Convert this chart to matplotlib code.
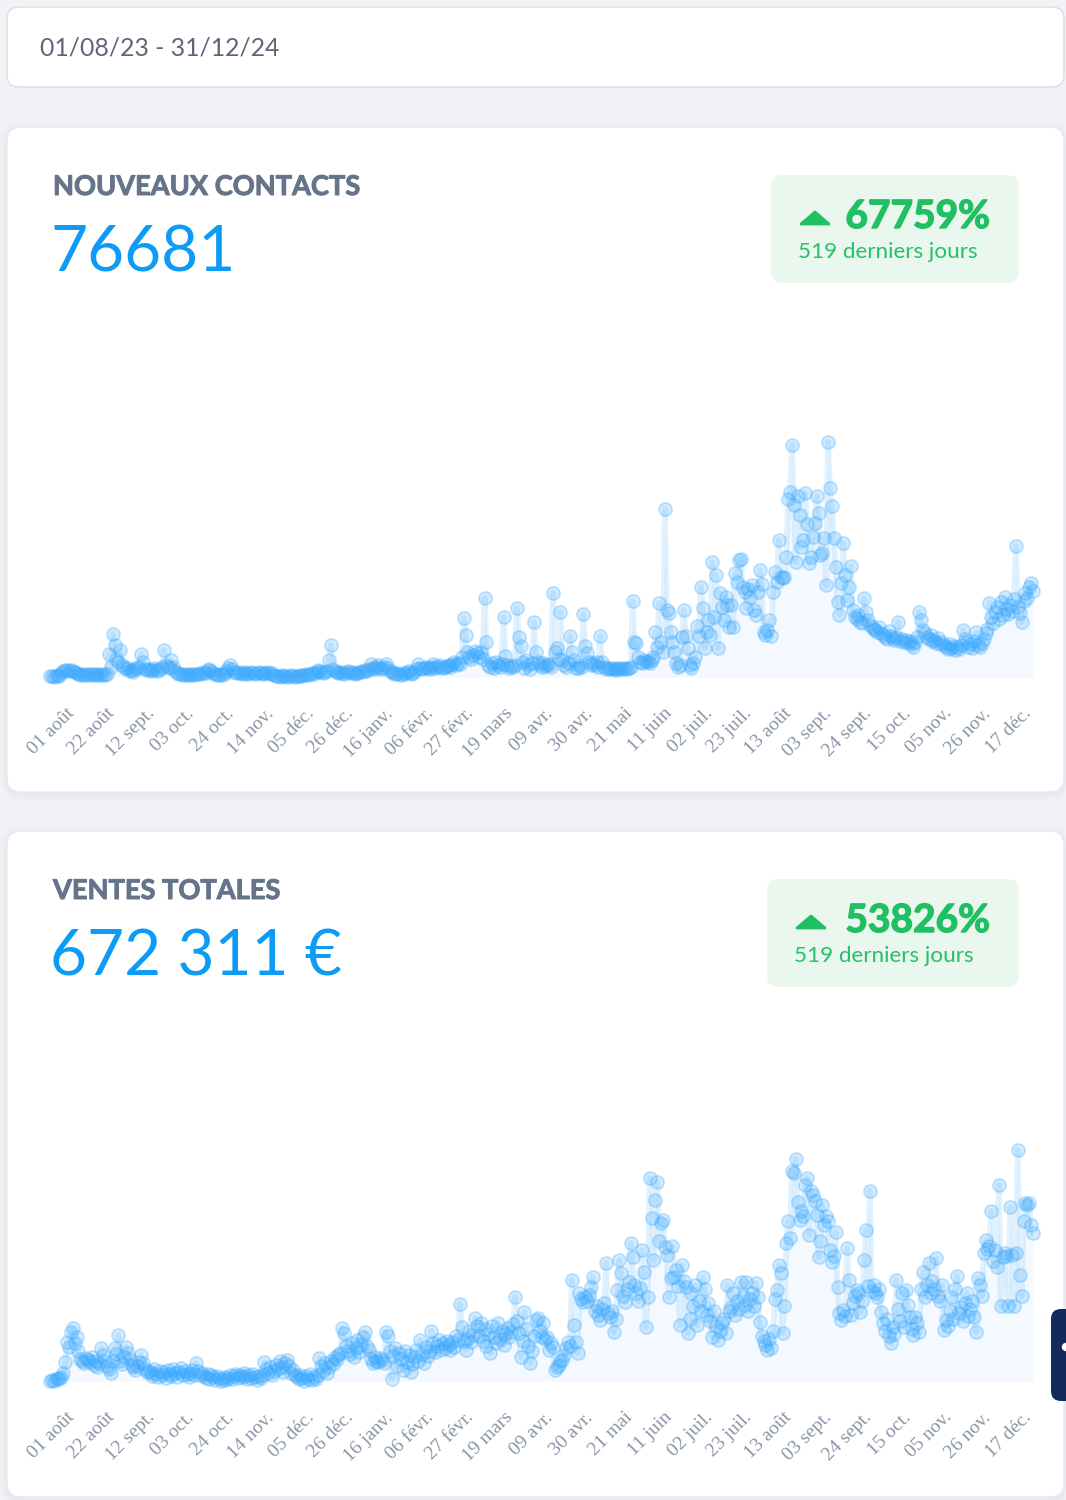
import numpy as np
import matplotlib.pyplot as plt
import matplotlib.patheffects as pe
from matplotlib import font_manager as fm
from matplotlib.patches import FancyBboxPatch, Polygon
from matplotlib.transforms import blended_transform_factory, ScaledTranslation

date_range = '01/08/23 - 31/12/24'
titles = ['NOUVEAUX CONTACTS', 'VENTES TOTALES']
totals = ['76681', '672 311 €']
growth = ['67759%', '53826%']
period = '519 derniers jours'

# one label every 21 days, starting 01/08/2023
tick_step = 21
tick_labels = ['01 août', '22 août', '12 sept.', '03 oct.', '24 oct.', '14 nov.',
               '05 déc.', '26 déc.', '16 janv.', '06 févr.', '27 févr.', '19 mars',
               '09 avr.', '30 avr.', '21 mai', '11 juin', '02 juil.', '23 juil.',
               '13 août', '03 sept.', '24 sept.', '15 oct.', '05 nov.', '26 nov.',
               '17 déc.']

# daily values (arbitrary units)
contacts = [
    1, 1, 0, 1, 2, 1,
    4, 6, 7, 7, 6, 7, 6, 5, 4,
    3, 2, 3, 2, 3, 2, 3, 3, 2, 3, 2, 3, 2, 3, 2, 3,
    23, 10, 43, 32, 18, 15, 27, 12, 10, 8, 9, 6, 7, 5, 8,
    10, 9, 23, 15, 8, 7, 8, 6, 7, 9, 7, 6, 8,
    10, 27, 12, 10, 9, 17, 10, 6,
    4, 3, 3, 2, 3, 2, 2, 3, 3, 2, 3, 3, 4, 3, 5, 4, 7,
    8, 6, 4, 3, 2, 2, 3, 2, 4, 6, 9, 12, 8, 5, 4, 5,
    4, 3, 5, 4, 3, 4, 5, 4, 3, 4, 5, 4, 3, 4, 4, 5, 3, 4,
    2, 1, 1, 0, 2, 1, 1, 0, 1, 2, 1, 0, 1, 1, 2, 1, 2, 3, 2,
    3, 4, 3, 5, 7, 6, 5, 4, 5, 6, 17, 32,
    8, 6, 5, 4, 5, 4, 3, 5, 6, 4, 5, 4, 3, 4, 5, 6, 5, 7, 6, 8, 13,
    9, 8, 10, 12, 9, 8, 10, 13, 9, 6, 5, 4,
    3, 4, 3, 2, 4, 3, 5, 6, 4, 3, 5, 8, 13,
    9, 8, 9, 10, 9, 8, 10, 13, 9, 10, 12, 10, 9, 10, 11, 12, 10, 13, 15, 12, 14, 13, 20,
    59, 42, 25, 20, 18, 22, 26, 24, 20, 25, 18,
    79, 35, 12, 10, 14, 9, 15, 12, 10, 13,
    60, 21, 12, 9, 11, 10, 12,
    69, 40, 31, 15, 9, 17, 12, 8, 14,
    55, 25, 15, 12, 10, 14, 11, 13, 12, 10,
    84, 25, 29, 18, 65, 17, 12, 10, 14,
    41, 25, 17, 9, 9, 12, 10,
    63, 31, 24, 15, 12, 14, 12, 15, 10,
    41, 15, 10, 8, 9, 8, 9, 8, 7, 9, 8, 9, 8, 9, 8, 9, 10,
    76, 35, 34, 20, 15, 14, 17, 15, 16, 14, 17, 20,
    45, 30, 74, 35, 25,
    168, 67, 64, 45, 35, 25, 14, 10, 12,
    40, 67, 41, 29, 12, 9, 14, 20, 51, 41,
    90, 69, 29, 45, 57, 42, 115, 60, 102, 29,
    84, 70, 57, 80, 72, 50,
    72, 50, 104, 95, 117, 118, 90, 85,
    69, 88, 80, 92, 67, 62, 85, 107, 93, 45, 42, 47, 57, 41,
    85, 105, 95, 137, 100, 99, 100, 120, 178, 185,
    232, 172, 115, 181, 162, 130, 137, 184, 153, 114,
    120, 140, 154, 181, 164, 122, 124, 139, 92, 235,
    189, 171, 139, 110, 75, 62, 94, 134, 102, 77,
    90, 111, 67, 60, 58, 62, 55, 54, 79, 65, 57, 52, 50, 48, 47,
    45, 50, 44, 42, 40, 38, 46, 41, 39, 37, 40, 55, 36, 38, 35, 37, 34, 36, 33, 30,
    35, 40, 65, 57, 47, 44, 40, 38, 42, 36, 37, 34, 39, 33, 35,
    32, 30, 28, 33, 29, 31, 27, 30, 28, 32,
    47, 38, 35, 30, 33, 29, 36, 45, 32, 30, 34, 38, 44, 48,
    74, 60, 54, 65, 70, 58, 75, 62, 80, 68, 63, 72, 66, 78,
    131,
    70, 64, 55, 76, 84, 79, 90, 94, 86,
]

ventes = [
    0, 1, 0, 2, 3, 2, 4, 8,
    19, 39, 34, 49, 53, 38, 44, 30,
    22, 20, 18, 23, 21, 19, 24, 16, 20, 14, 18,
    33, 26, 20, 15, 12, 8,
    20, 33, 27, 46, 20, 17, 24, 34, 28, 22, 16, 14, 11,
    15, 19, 26, 18, 12, 9, 10,
    8, 5, 12, 7, 4, 10, 6, 9, 3, 11, 7, 5, 12, 8, 4, 9, 13, 6, 10, 7, 4, 8, 11, 6,
    18, 10, 6, 8,
    5, 3, 7, 2, 6, 4, 1, 5, 3, 0, 2, 4, 1, 3, 6, 2, 5, 7, 3, 6, 4, 8, 5, 2, 6, 3, 7, 4, 1, 5, 3, 6,
    19, 12, 8, 14, 6, 10,
    16, 12, 20, 14, 9, 18, 21, 15, 8, 11, 6,
    4, 2, 6, 3, 0, 5, 2, 7, 1, 4, 2, 6,
    23, 15, 10, 18, 8, 14, 20, 17, 24, 22, 26,
    28, 53, 48, 35, 30,
    27, 38, 24, 33, 41, 29, 36, 44, 49, 35, 31,
    22, 18, 24, 20, 19, 23, 21, 18,
    49, 45, 30,
    2, 25, 33, 15, 28, 22, 11, 30, 19, 26, 9, 17, 24, 31, 20, 41, 27, 18, 34, 25, 30, 50, 38, 29,
    35, 41, 31, 38, 33, 40, 36, 31, 39, 34, 45, 41,
    77, 54, 40, 31, 42, 50, 39, 46, 63, 55, 45,
    58, 40, 52, 35, 47, 28, 55, 44, 38, 58, 42, 50, 36, 47, 53, 44, 49, 57,
    84, 60, 48, 24, 40, 69, 52, 35,
    18, 30, 45, 61, 63, 50, 44, 58, 42,
    44, 31, 38, 34, 11, 14, 16, 20, 21, 26, 33, 39, 35,
    101, 56, 39, 28, 88, 82, 79, 84, 80, 86, 94,
    104, 70, 75, 66, 61, 72, 78, 118, 68, 64, 70, 49, 62,
    91, 121, 108, 85, 79, 92, 99,
    138, 124, 96, 88, 80, 93, 131, 109, 54, 84,
    203, 163, 121, 181, 199, 140,
    158, 161, 134, 126, 84, 103, 135,
    104, 111, 95, 56, 116, 100, 94, 48,
    62, 88, 75, 96, 56, 80, 70, 104, 92, 66, 78,
    60, 44, 70, 55, 41, 50, 58, 62, 48, 96, 70,
    74, 88, 66, 80, 72, 99, 85, 76, 99, 70, 82, 88, 75, 98, 84,
    59, 45, 40, 36, 31, 42, 33, 50,
    82, 91, 116, 108, 48, 75,
    138, 160, 143, 210, 208, 222,
    179, 161, 170, 165,
    196, 203, 146, 190, 186, 180,
    166, 124, 140, 176, 156, 165, 160,
    131, 119, 125, 149,
    94, 68, 61, 71, 65, 133, 101, 66,
    78, 85, 91, 88, 69, 80,
    121, 151, 95, 190, 90,
    96, 88, 84, 92, 69, 58,
    50, 62, 45, 38, 54, 47,
    101, 72, 60, 88, 54, 91, 76, 64,
    52, 46, 64, 58, 49,
    92, 109, 84, 96, 118, 88, 100, 92, 123, 85, 80, 96,
    51, 61, 55,
    70, 84, 62, 92, 105, 68, 74, 60, 78, 88, 65, 72, 80, 64,
    49, 103, 96, 85,
    128, 141, 132, 135, 170, 120, 131, 114,
    196, 75, 124, 128, 125, 75, 174, 126, 75, 128,
    231, 106, 85, 160, 178, 176, 178, 156, 148,
]

assert len(contacts) == 519, 'contacts: %d' % len(contacts)
assert len(ventes) == 519, 'ventes: %d' % len(ventes)


def weight_of(f):
    w = f.weight
    return fm.weight_dict.get(w, 400) if isinstance(w, str) else int(w)


def lato_bold_file():
    for f in fm.fontManager.ttflist:
        if f.name == 'Lato' and f.style == 'normal' and 650 <= weight_of(f) <= 800:
            return f.fname
    return None


W, H = 1066, 1500
BG = '#f1f2f6'
BLUE = '#0d9cf5'
GREEN = '#1fbf62'
FONT = ['Lato', 'DejaVu Sans']
BOLD_FILE = lato_bold_file()

fig = plt.figure(figsize=(W / 100, H / 100), dpi=100)
fig.patch.set_facecolor(BG)
bg = fig.add_axes([0, 0, 1, 1])
bg.set_xlim(0, W)
bg.set_ylim(H, 0)
bg.axis('off')


def bold_text(x, y, s, size, color, stroke, **kw):
    # bold face when there is one, thickened a little with a stroke
    effects = [pe.withStroke(linewidth=stroke, foreground=color)]
    if BOLD_FILE:
        fp = fm.FontProperties(fname=BOLD_FILE, size=size)
        return bg.text(x, y, s, fontproperties=fp, color=color,
                       path_effects=effects, **kw)
    return bg.text(x, y, s, fontsize=size, family=FONT, color=color,
                   path_effects=[pe.withStroke(linewidth=stroke * 2, foreground=color)], **kw)


def rounded(x0, y0, x1, y1, r, **kw):
    p = FancyBboxPatch((x0 + r, y0 + r), x1 - x0 - 2 * r, y1 - y0 - 2 * r,
                       boxstyle='round,pad=%g' % r, **kw)
    bg.add_patch(p)
    return p


def card(x0, y0, x1, y1, r=14, ec='#e7e9ef'):
    for k, a in [(7, 0.012), (4, 0.02), (2, 0.03)]:
        rounded(x0 - k, y0 - k + 2, x1 + k, y1 + k + 2, r + k,
                fc='#7d889c', ec='none', alpha=a)
    rounded(x0, y0, x1, y1, r, fc='white', ec=ec, lw=1)


def chart(y_base, values):
    ax = fig.add_axes([50 / W, (H - y_base) / H, 983 / W, 377 / H])
    ax.set_xlim(0, len(values) - 1)
    ax.set_ylim(0, 377)
    ax.axis('off')
    days = np.arange(len(values))
    ax.fill_between(days, values, 0, color='#f3f9fe', lw=0, zorder=1)
    ax.plot(days, values, color='#3aa6fb', alpha=0.15, lw=4.2, zorder=2)
    ax.plot(days, values, ls='none', marker='o', ms=9.4,
            mfc=(0.22, 0.66, 1.0, 0.22), mec=(0.22, 0.66, 1.0, 0.28), mew=1.4,
            zorder=3, clip_on=False)
    tr = blended_transform_factory(ax.transData, ax.transAxes) + \
        ScaledTranslation(0.22, -0.34, fig.dpi_scale_trans)
    for d, lab in zip(range(0, len(values), tick_step), tick_labels):
        ax.text(d, 0, lab, transform=tr, rotation=45, rotation_mode='anchor',
                ha='right', va='center', fontsize=14, color='#8a95a7',
                family=['Liberation Serif', 'DejaVu Serif'], clip_on=False)


def header(dy, title, total, pct, bx0):
    bold_text(53, 195 + dy, title, 19.6, '#66748a', 0.7, va='baseline')
    bg.text(50, 272 + dy, total, fontsize=46, color=BLUE, family=FONT,
            va='baseline')
    rounded(bx0, 175 + dy, 1019, 283 + dy, 12, fc='#eaf7ee', ec='none')
    tri = Polygon([[bx0 + 30, 224 + dy], [bx0 + 58, 224 + dy], [bx0 + 44, 212 + dy]],
                  closed=True, fc=GREEN, ec=GREEN, lw=2, joinstyle='round')
    bg.add_patch(tri)
    bold_text(1019 - 29, 228 + dy, pct, 28, GREEN, 1.0, va='baseline', ha='right')
    bg.text(bx0 + 27, 258 + dy, period, fontsize=16.2, color='#25c266',
            family=FONT, va='baseline')


# date picker
rounded(7, 7, 1064, 87, 12, fc='white', ec='#dde1e8', lw=1.2)
bg.text(40, 55, date_range, fontsize=17.8, color='#5d6678', family=FONT,
        va='baseline')

# cards
card(7, 127, 1064, 792)
card(7, 831, 1064, 1497)
header(0, titles[0], totals[0], growth[0], 771)
header(704, titles[1], totals[1], growth[1], 767)

# side tab on the right edge
rounded(1051, 1309, 1095, 1401, 10, fc='#132a5c', ec='none')
bg.add_patch(plt.Circle((1066, 1347), 3.5, color='white'))

chart(677, contacts)
chart(1381, ventes)

fig.savefig('out.png', dpi=100, facecolor=BG)
